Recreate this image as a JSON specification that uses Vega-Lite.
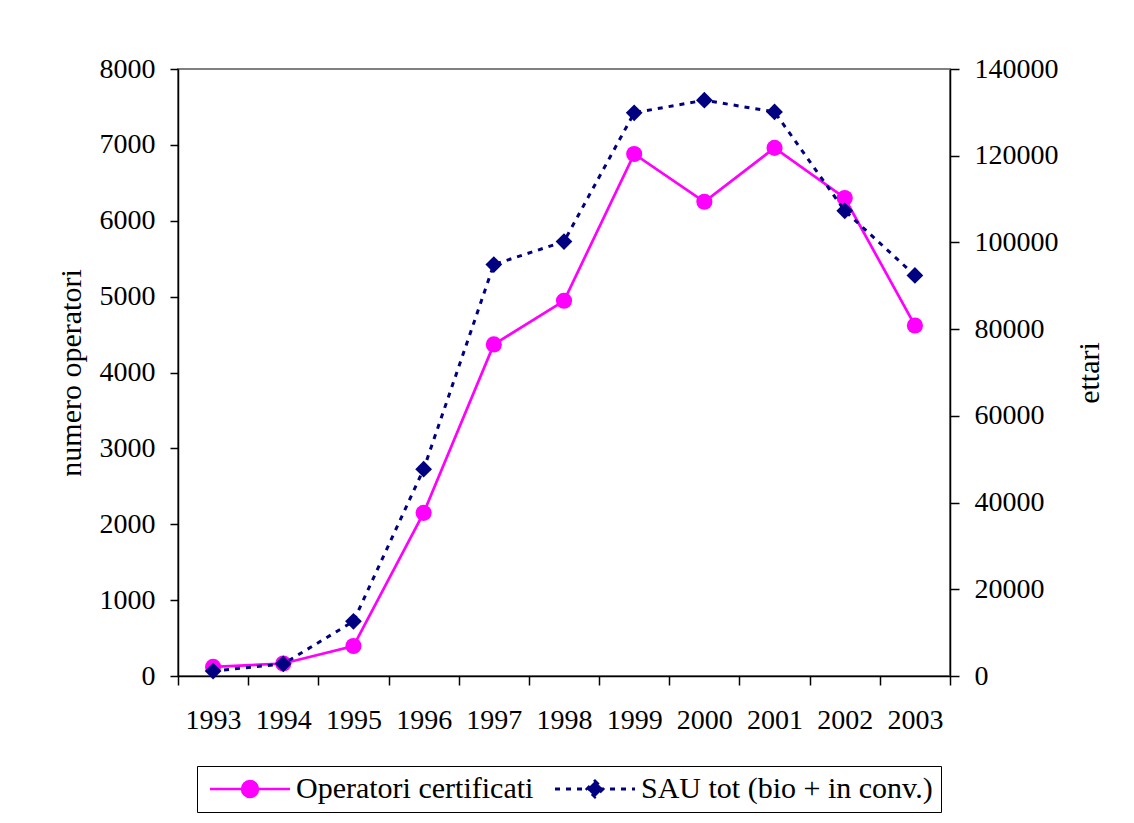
{
  "$schema": "https://vega.github.io/schema/vega-lite/v6.json",
  "width": 772,
  "height": 607,
  "autosize": "none",
  "padding": {"left": 178, "top": 69, "right": 184, "bottom": 147},
  "background": "white",
  "data": {
    "values": [
      {"year": "1993", "op": 120, "sau": 1150},
      {"year": "1994", "op": 165, "sau": 2800},
      {"year": "1995", "op": 395, "sau": 12600},
      {"year": "1996", "op": 2150, "sau": 47700},
      {"year": "1997", "op": 4370, "sau": 94900},
      {"year": "1998", "op": 4945, "sau": 100200},
      {"year": "1999", "op": 6880, "sau": 129900},
      {"year": "2000", "op": 6250, "sau": 132800},
      {"year": "2001", "op": 6960, "sau": 130100},
      {"year": "2002", "op": 6300, "sau": 107300},
      {"year": "2003", "op": 4620, "sau": 92400}
    ]
  },
  "encoding": {
    "x": {
      "field": "year",
      "type": "ordinal",
      "scale": {"type": "band", "paddingInner": 0, "paddingOuter": 0},
      "axis": {"title": null, "labelAngle": 0, "tickBand": "extent", "tickSize": 9, "labelPadding": 21}
    }
  },
  "layer": [
    {
      "encoding": {
        "y": {
          "field": "op",
          "type": "quantitative",
          "scale": {"domain": [0, 8000], "nice": false, "zero": true},
          "axis": {
            "title": "numero operatori",
            "values": [0, 1000, 2000, 3000, 4000, 5000, 6000, 7000, 8000],
            "format": "d",
            "tickSize": 8,
            "labelPadding": 15,
            "titlePadding": 13
          }
        },
        "color": {
          "datum": "Operatori certificati",
          "scale": {"domain": ["Operatori certificati", "SAU tot (bio + in conv.)"], "range": ["#FF00FF", "#000080"]},
          "legend": {
            "orient": "none",
            "legendX": 19,
            "legendY": 697,
            "direction": "horizontal",
            "title": null,
            "strokeColor": "black",
            "padding": 8,
            "labelFont": "Liberation Serif",
            "labelFontSize": 30,
            "labelColor": "black",
            "labelLimit": 600,
            "symbolSize": 400,
            "symbolOffset": 30,
            "labelOffset": 31,
            "columnPadding": 15,
            "symbolStrokeWidth": 2.5,
            "encode": {
              "symbols": {
                "update": {
                  "shape": {"signal": "datum.value === 'Operatori certificati' ? 'M-4,0H4M-0.8,0A0.8,0.8 0 1,0 0.8,0A0.8,0.8 0 1,0 -0.8,0Z' : 'M-4,0H4M0,-0.8L0.8,0L0,0.8L-0.8,0Z'"},
                  "fill": {"signal": "datum.value === 'Operatori certificati' ? '#FF00FF' : '#000080'"},
                  "stroke": {"signal": "datum.value === 'Operatori certificati' ? '#FF00FF' : '#000080'"},
                  "strokeDash": {"signal": "datum.value === 'Operatori certificati' ? [] : [5, 6]"},
                  "strokeWidth": {"signal": "datum.value === 'Operatori certificati' ? 2.5 : 3"},
                  "opacity": {"value": 1},
                  "fillOpacity": {"value": 1},
                  "strokeOpacity": {"value": 1}
                }
              }
            }
          }
        }
      },
      "layer": [
        {"mark": {"type": "line", "strokeWidth": 2.7}},
        {"mark": {"type": "point", "shape": "circle", "filled": true, "size": 260, "opacity": 1}}
      ]
    },
    {
      "encoding": {
        "y": {
          "field": "sau",
          "type": "quantitative",
          "scale": {"domain": [0, 140000], "nice": false, "zero": true},
          "axis": {
            "orient": "right",
            "title": "ettari",
            "values": [0, 20000, 40000, 60000, 80000, 100000, 120000, 140000],
            "format": "d",
            "tickSize": 9,
            "labelPadding": 15,
            "titlePadding": 16,
            "titleAngle": 270,
            "titleBaseline": "top"
          }
        },
        "color": {"datum": "SAU tot (bio + in conv.)"}
      },
      "layer": [
        {"mark": {"type": "line", "strokeWidth": 3, "strokeDash": [5, 6]}},
        {"mark": {"type": "point", "shape": "diamond", "filled": true, "size": 280, "opacity": 1}}
      ]
    }
  ],
  "resolve": {"scale": {"y": "independent"}},
  "config": {
    "view": {"stroke": "#808080", "strokeWidth": 2},
    "axis": {
      "labelFont": "Liberation Serif",
      "titleFont": "Liberation Serif",
      "labelFontSize": 28,
      "titleFontSize": 30,
      "titleFontWeight": "normal",
      "labelColor": "black",
      "titleColor": "black",
      "domainColor": "black",
      "tickColor": "black",
      "domainWidth": 1.5,
      "tickWidth": 1.5,
      "grid": false
    }
  }
}
